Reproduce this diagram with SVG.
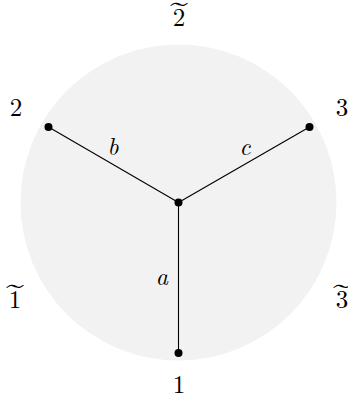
<svg xmlns="http://www.w3.org/2000/svg" width="348" height="408" viewBox="0 0 348 408">
<style>
.lbl{font-family:"Latin Modern Roman","Liberation Serif",serif;font-size:25px;fill:#000;text-anchor:middle}
.var{font-style:italic;font-size:24px}
.tl{font-family:"Latin Modern Roman","Liberation Serif",serif;font-size:28px;fill:#000;text-anchor:middle}
.edge{stroke:#000;stroke-width:1.1;fill:none}
.dot{fill:#000}
</style>
<rect width="348" height="408" fill="#fff"/>
<circle cx="178.5" cy="202.5" r="158" fill="#f2f2f2"/>
<g id="connectors">
<line class="edge" x1="178.5" y1="202.5" x2="48.5" y2="127"/>
<line class="edge" x1="178.5" y1="202.5" x2="309.5" y2="127"/>
<line class="edge" x1="178.5" y1="202.5" x2="178.5" y2="353"/>
<text class="lbl var" x="113" y="155">b</text>
<text class="lbl var" x="245" y="155">c</text>
<text class="lbl var" x="162" y="285">a</text>
</g>
<g id="center"><circle class="dot" cx="178.5" cy="202.5" r="4"/></g>
<g id="n2"><circle class="dot" cx="48.5" cy="127" r="4"/><text class="lbl" x="16" y="116">2</text></g>
<g id="n3"><circle class="dot" cx="309.5" cy="127" r="4"/><text class="lbl" x="342" y="116">3</text></g>
<g id="n1"><circle class="dot" cx="178.5" cy="353" r="4"/><text class="lbl" x="179" y="393">1</text></g>
<g id="t2"><text class="lbl" x="179" y="26">2</text><text class="tl" transform="translate(179,21) scale(1.9,1)">˜</text></g>
<g id="t1"><text class="lbl" x="15" y="308">1</text><text class="tl" transform="translate(15,303) scale(1.9,1)">˜</text></g>
<g id="t3"><text class="lbl" x="342" y="308">3</text><text class="tl" transform="translate(342,303) scale(1.9,1)">˜</text></g>
</svg>
